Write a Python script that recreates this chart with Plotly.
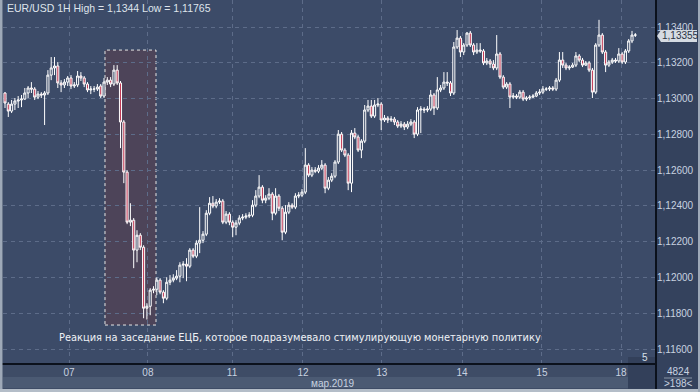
import plotly.graph_objects as go

# EUR/USD 1H candles (hourly), 6-18 March 2019
open_ = [1.13031, 1.12969, 1.12930, 1.12969, 1.12986, 1.12992, 1.12997, 1.13031, 1.13059, 1.13053,
         1.13008, 1.13025, 1.13020, 1.13031, 1.13131, 1.13171, 1.13182, 1.13087, 1.13076, 1.13092,
         1.13115, 1.13070, 1.13076, 1.13126, 1.13115, 1.13081, 1.13048, 1.13053, 1.13053, 1.13070,
         1.13014, 1.13092, 1.13103, 1.13081, 1.13159, 1.13087, 1.12869, 1.12589, 1.12309, 1.12320,
         1.12153, 1.12236, 1.12169, 1.11828, 1.11839, 1.11929, 1.11934, 1.11985, 1.11918, 1.11884,
         1.11973, 1.11985, 1.11996, 1.12007, 1.12069, 1.12074, 1.12063, 1.12153, 1.12119, 1.12192,
         1.12208, 1.12242, 1.12359, 1.12415, 1.12399, 1.12421, 1.12427, 1.12309, 1.12354, 1.12309,
         1.12281, 1.12304, 1.12332, 1.12337, 1.12343, 1.12348, 1.12404, 1.12455, 1.12505, 1.12432,
         1.12443, 1.12466, 1.12359, 1.12455, 1.12387, 1.12253, 1.12365, 1.12404, 1.12393, 1.12455,
         1.12460, 1.12477, 1.12628, 1.12572, 1.12600, 1.12594, 1.12611, 1.12628, 1.12499, 1.12544,
         1.12566, 1.12645, 1.12801, 1.12712, 1.12684, 1.12527, 1.12807, 1.12785, 1.12712, 1.12762,
         1.12936, 1.12958, 1.12902, 1.12964, 1.12969, 1.12880, 1.12891, 1.12880, 1.12885, 1.12869,
         1.12846, 1.12857, 1.12841, 1.12857, 1.12869, 1.12801, 1.12936, 1.12941, 1.12936, 1.12941,
         1.13020, 1.12947, 1.13048, 1.13059, 1.13092, 1.13087, 1.13031, 1.13288, 1.13338, 1.13260,
         1.13299, 1.13366, 1.13299, 1.13260, 1.13271, 1.13266, 1.13199, 1.13210, 1.13193, 1.13171,
         1.13249, 1.13120, 1.13064, 1.13081, 1.13008, 1.13014, 1.13008, 1.13036, 1.12997, 1.13003,
         1.13008, 1.13014, 1.13031, 1.13036, 1.13053, 1.13053, 1.13059, 1.13053, 1.13103, 1.13215,
         1.13187, 1.13171, 1.13176, 1.13187, 1.13238, 1.13215, 1.13187, 1.13199, 1.13159, 1.13036,
         1.13299, 1.13355, 1.13260, 1.13187, 1.13204, 1.13215, 1.13210, 1.13249, 1.13204, 1.13266,
         1.13322, 1.13355]

high = [1.13036, 1.12980, 1.12992, 1.13003, 1.13014, 1.13020, 1.13059, 1.13070, 1.13092, 1.13064,
        1.13042, 1.13036, 1.13042, 1.13159, 1.13232, 1.13232, 1.13204, 1.13103, 1.13109, 1.13126,
        1.13131, 1.13092, 1.13154, 1.13148, 1.13126, 1.13092, 1.13070, 1.13070, 1.13081, 1.13081,
        1.13115, 1.13120, 1.13120, 1.13187, 1.13187, 1.13098, 1.12880, 1.12600, 1.12415, 1.12332,
        1.12264, 1.12248, 1.12180, 1.11856, 1.11940, 1.11951, 1.12001, 1.11996, 1.11929, 1.12001,
        1.12013, 1.12018, 1.12041, 1.12085, 1.12091, 1.12108, 1.12164, 1.12164, 1.12208, 1.12393,
        1.12259, 1.12376, 1.12449, 1.12455, 1.12438, 1.12443, 1.12438, 1.12371, 1.12365, 1.12320,
        1.12320, 1.12348, 1.12354, 1.12359, 1.12365, 1.12432, 1.12488, 1.12572, 1.12516, 1.12460,
        1.12499, 1.12477, 1.12499, 1.12466, 1.12399, 1.12404, 1.12421, 1.12415, 1.12471, 1.12477,
        1.12494, 1.12723, 1.12639, 1.12617, 1.12617, 1.12628, 1.12656, 1.12639, 1.12561, 1.12583,
        1.12656, 1.12824, 1.12813, 1.12723, 1.12695, 1.12824, 1.12835, 1.12796, 1.12773, 1.12964,
        1.12992, 1.12992, 1.12992, 1.13003, 1.12980, 1.12908, 1.12902, 1.12902, 1.12897, 1.12880,
        1.12874, 1.12869, 1.12874, 1.12885, 1.12880, 1.12952, 1.12958, 1.12952, 1.12958, 1.13048,
        1.13031, 1.13120, 1.13076, 1.13148, 1.13148, 1.13098, 1.13316, 1.13383, 1.13350, 1.13310,
        1.13372, 1.13378, 1.13310, 1.13310, 1.13310, 1.13277, 1.13227, 1.13221, 1.13215, 1.13355,
        1.13260, 1.13131, 1.13092, 1.13092, 1.13031, 1.13025, 1.13048, 1.13048, 1.13014, 1.13020,
        1.13025, 1.13042, 1.13053, 1.13070, 1.13064, 1.13070, 1.13070, 1.13115, 1.13260, 1.13260,
        1.13199, 1.13187, 1.13199, 1.13260, 1.13249, 1.13227, 1.13210, 1.13210, 1.13171, 1.13310,
        1.13440, 1.13366, 1.13271, 1.13215, 1.13227, 1.13227, 1.13282, 1.13260, 1.13277, 1.13333,
        1.13378, 1.13366]

low = [1.12947, 1.12897, 1.12919, 1.12936, 1.12947, 1.12952, 1.12992, 1.13003, 1.13031, 1.12992,
       1.12997, 1.13003, 1.12852, 1.13020, 1.13103, 1.13131, 1.13059, 1.13036, 1.13059, 1.13070,
       1.13053, 1.13059, 1.13064, 1.13098, 1.13064, 1.13036, 1.13025, 1.13036, 1.13042, 1.13003,
       1.13003, 1.13076, 1.13064, 1.13070, 1.13076, 1.12723, 1.12527, 1.12298, 1.12287, 1.12052,
       1.12085, 1.12153, 1.11772, 1.11765, 1.11789, 1.11912, 1.11901, 1.11906, 1.11856, 1.11873,
       1.11957, 1.11973, 1.11985, 1.11973, 1.11996, 1.11979, 1.12052, 1.12108, 1.12108, 1.12136,
       1.12192, 1.12231, 1.12348, 1.12387, 1.12387, 1.12410, 1.12298, 1.12298, 1.12292, 1.12225,
       1.12236, 1.12292, 1.12320, 1.12326, 1.12332, 1.12337, 1.12393, 1.12443, 1.12415, 1.12415,
       1.12432, 1.12320, 1.12348, 1.12371, 1.12208, 1.12242, 1.12354, 1.12382, 1.12382, 1.12443,
       1.12449, 1.12466, 1.12561, 1.12561, 1.12583, 1.12583, 1.12600, 1.12471, 1.12488, 1.12533,
       1.12555, 1.12634, 1.12701, 1.12673, 1.12488, 1.12477, 1.12773, 1.12701, 1.12667, 1.12751,
       1.12924, 1.12891, 1.12891, 1.12952, 1.12824, 1.12869, 1.12863, 1.12869, 1.12852, 1.12835,
       1.12835, 1.12824, 1.12829, 1.12846, 1.12779, 1.12790, 1.12807, 1.12919, 1.12924, 1.12930,
       1.12908, 1.12936, 1.13036, 1.13048, 1.13070, 1.13014, 1.13020, 1.13277, 1.13232, 1.13243,
       1.13288, 1.13288, 1.13243, 1.13249, 1.13255, 1.13187, 1.13187, 1.13171, 1.13159, 1.13159,
       1.13109, 1.13053, 1.13053, 1.12947, 1.12997, 1.12997, 1.12997, 1.12986, 1.12986, 1.12992,
       1.13003, 1.13008, 1.13020, 1.13025, 1.13042, 1.13042, 1.13042, 1.13042, 1.13092, 1.13171,
       1.13159, 1.13159, 1.13171, 1.13176, 1.13204, 1.13176, 1.13182, 1.13148, 1.13003, 1.13025,
       1.13288, 1.13249, 1.13148, 1.13176, 1.13193, 1.13199, 1.13199, 1.13193, 1.13193, 1.13255,
       1.13310, 1.13344]

close = [1.12975, 1.12930, 1.12969, 1.12986, 1.12992, 1.12997, 1.13031, 1.13059, 1.13053, 1.13008,
         1.13025, 1.13020, 1.13031, 1.13131, 1.13171, 1.13182, 1.13087, 1.13076, 1.13092, 1.13115,
         1.13070, 1.13076, 1.13126, 1.13115, 1.13081, 1.13048, 1.13053, 1.13053, 1.13064, 1.13014,
         1.13092, 1.13103, 1.13081, 1.13159, 1.13087, 1.12869, 1.12589, 1.12309, 1.12320, 1.12153,
         1.12236, 1.12169, 1.11828, 1.11839, 1.11929, 1.11934, 1.11985, 1.11918, 1.11884, 1.11973,
         1.11985, 1.11996, 1.12007, 1.12069, 1.12074, 1.12063, 1.12153, 1.12119, 1.12192, 1.12208,
         1.12242, 1.12359, 1.12415, 1.12399, 1.12421, 1.12427, 1.12309, 1.12354, 1.12309, 1.12281,
         1.12304, 1.12332, 1.12337, 1.12343, 1.12348, 1.12404, 1.12455, 1.12505, 1.12432, 1.12443,
         1.12466, 1.12359, 1.12455, 1.12387, 1.12253, 1.12365, 1.12404, 1.12393, 1.12455, 1.12460,
         1.12477, 1.12628, 1.12572, 1.12600, 1.12594, 1.12611, 1.12628, 1.12499, 1.12544, 1.12566,
         1.12645, 1.12801, 1.12712, 1.12684, 1.12527, 1.12807, 1.12785, 1.12712, 1.12762, 1.12936,
         1.12958, 1.12902, 1.12964, 1.12969, 1.12880, 1.12891, 1.12880, 1.12885, 1.12869, 1.12846,
         1.12857, 1.12841, 1.12857, 1.12869, 1.12801, 1.12936, 1.12941, 1.12936, 1.12941, 1.13020,
         1.12947, 1.13048, 1.13059, 1.13092, 1.13087, 1.13031, 1.13288, 1.13338, 1.13260, 1.13299,
         1.13366, 1.13299, 1.13260, 1.13271, 1.13266, 1.13199, 1.13210, 1.13193, 1.13171, 1.13249,
         1.13120, 1.13064, 1.13081, 1.13008, 1.13014, 1.13008, 1.13036, 1.12997, 1.13003, 1.13008,
         1.13014, 1.13031, 1.13036, 1.13053, 1.13053, 1.13059, 1.13053, 1.13103, 1.13215, 1.13187,
         1.13171, 1.13176, 1.13187, 1.13238, 1.13215, 1.13187, 1.13199, 1.13159, 1.13036, 1.13299,
         1.13355, 1.13260, 1.13187, 1.13204, 1.13215, 1.13210, 1.13249, 1.13204, 1.13266, 1.13322,
         1.13355, 1.13355]

day_tick_pos = [19.4, 43.3, 68.8, 90.3, 114.2, 138.5, 162.7, 186.7]
day_tick_labels = ["07", "08", "11", "12", "13", "14", "15", "18"]
price_ticks = [1.116, 1.118, 1.120, 1.122, 1.124, 1.126, 1.128, 1.130, 1.132, 1.134]
price_tick_labels = ["1,11600", "1,11800", "1,12000", "1,12200", "1,12400",
                     "1,12600", "1,12800", "1,13000", "1,13200", "1,13400"]
last_price = 1.13355
ecb_window = (30.3, 45.76, 1.11734, 1.13271)

assert len(open_) == len(high) == len(low) == len(close)
idx = list(range(len(close)))

BG = "#3c4b68"
GRID = "#5d6c89"
FONT = "Liberation Sans"

fig = go.Figure()
fig.add_trace(go.Candlestick(
    x=idx, open=open_, high=high, low=low, close=close,
    increasing=dict(line=dict(color="#ffffff", width=1), fillcolor=BG),
    decreasing=dict(line=dict(color="#ffffff", width=1), fillcolor="#c23a55"),
    whiskerwidth=0, showlegend=False, hoverinfo="skip",
))

shapes = []
# ECB reaction window
shapes.append(dict(type="rect", xref="x", yref="y",
                   x0=ecb_window[0], x1=ecb_window[1], y0=ecb_window[2], y1=ecb_window[3],
                   fillcolor="#4d4459", line=dict(color="#e6e6e6", width=1, dash="dot"),
                   layer="below"))

def px_x(p):
    return (p - 3) / 653.0

def px_y(p):
    return (365 - p) / 365.0

# bottom time-scale bands
shapes.append(dict(type="rect", xref="paper", yref="paper", x0=px_x(0), x1=px_x(656),
                   y0=px_y(392), y1=px_y(365), fillcolor="#3e4c66", line=dict(width=0), layer="below"))
shapes.append(dict(type="rect", xref="paper", yref="paper", x0=px_x(3), x1=px_x(628),
                   y0=px_y(388), y1=px_y(377), fillcolor="#4b5a73", line=dict(width=0), layer="below"))
# scroll block
shapes.append(dict(type="rect", xref="paper", yref="paper", x0=px_x(628), x1=px_x(655),
                   y0=px_y(389), y1=px_y(357), fillcolor="#33405a", line=dict(width=0)))
# separators
shapes.append(dict(type="line", xref="paper", yref="paper", x0=px_x(656), x1=px_x(656),
                   y0=px_y(392), y1=px_y(0), line=dict(color="#0b111c", width=2)))
shapes.append(dict(type="line", xref="paper", yref="paper", x0=px_x(0), x1=px_x(656),
                   y0=px_y(364), y1=px_y(364), line=dict(color="#0b111c", width=2)))
# frame edges
shapes.append(dict(type="rect", xref="paper", yref="paper", x0=px_x(0), x1=px_x(2.5),
                   y0=px_y(392), y1=px_y(0), fillcolor="#9ea9b8", line=dict(width=0)))
shapes.append(dict(type="rect", xref="paper", yref="paper", x0=px_x(0), x1=px_x(700),
                   y0=px_y(392), y1=px_y(389), fillcolor="#b4bdc8", line=dict(width=0)))
shapes.append(dict(type="rect", xref="paper", yref="paper", x0=px_x(698), x1=px_x(700),
                   y0=px_y(392), y1=px_y(0), fillcolor="#9ea9b8", line=dict(width=0)))
# right bottom counter separator
shapes.append(dict(type="line", xref="paper", yref="paper", x0=px_x(664), x1=px_x(692),
                   y0=px_y(378), y1=px_y(378), line=dict(color="#8895a8", width=1)))
# last price marker
shapes.append(dict(type="path", xref="paper", yref="paper",
                   path=(f"M {px_x(657)},{px_y(36)} L {px_x(661)},{px_y(30)} L {px_x(697)},{px_y(30)} "
                         f"L {px_x(697)},{px_y(42)} L {px_x(661)},{px_y(42)} Z"),
                   fillcolor="#d5dbe2", line=dict(width=0)))

annotations = [
    dict(text="EUR/USD 1H High = 1,1344 Low = 1,11765", xref="paper", yref="paper",
         x=px_x(5), y=px_y(8), xanchor="left", yanchor="middle", showarrow=False,
         font=dict(family=FONT, size=10.5, color="#dfe5ec")),
    dict(text="Реакция на заседание ЕЦБ, которое подразумевало стимулирующую монетарную политику",
         xref="paper", yref="paper", x=px_x(57), y=px_y(337), xanchor="left", yanchor="middle",
         showarrow=False, font=dict(family="DejaVu Sans", size=9.85, color="#eef1f5")),
    dict(text=f"{last_price:.5f}".replace(".", ","), xref="paper", yref="y", x=px_x(661), y=last_price,
         xanchor="left", yanchor="middle", showarrow=False, borderpad=0,
         font=dict(family=FONT, size=10, color="#2a3344")),
    dict(text="мар.2019", xref="paper", yref="paper", x=px_x(332), y=px_y(383),
         xanchor="center", yanchor="middle", showarrow=False,
         font=dict(family=FONT, size=10, color="#c8d2e0")),
    dict(text="5", xref="paper", yref="paper", x=px_x(645), y=px_y(357),
         xanchor="center", yanchor="middle", showarrow=False,
         font=dict(family=FONT, size=10, color="#d8e0ea")),
    dict(text="4824", xref="paper", yref="paper", x=px_x(678), y=px_y(371),
         xanchor="center", yanchor="middle", showarrow=False,
         font=dict(family=FONT, size=10, color="#c8d2e0")),
    dict(text="&gt;198&lt;", xref="paper", yref="paper", x=px_x(678), y=px_y(384),
         xanchor="center", yanchor="middle", showarrow=False,
         font=dict(family=FONT, size=10, color="#c8d2e0")),
]

fig.update_layout(
    width=700, height=392,
    margin=dict(l=3, r=44, t=0, b=27),
    paper_bgcolor="#34425d",
    plot_bgcolor=BG,
    shapes=shapes,
    annotations=annotations,
    boxgap=0.1,
    xaxis=dict(
        range=[-0.606, 197.27], rangeslider=dict(visible=False),
        tickmode="array", tickvals=day_tick_pos, ticktext=day_tick_labels,
        showgrid=True, gridcolor=GRID, griddash="4px,4px", gridwidth=1,
        zeroline=False, showline=False, ticks="", ticklabelstandoff=0,
        tickfont=dict(family=FONT, size=10, color="#c8d2e0"),
    ),
    yaxis=dict(
        range=[1.115106, 1.135509], side="right",
        tickmode="array", tickvals=price_ticks, ticktext=price_tick_labels,
        showgrid=True, gridcolor=GRID, griddash="4px,4px", gridwidth=1,
        zeroline=False, showline=False, ticks="",
        tickfont=dict(family=FONT, size=10, color="#c8d2e0"),
    ),
)

fig.write_html("out.html", config={"displayModeBar": False},
               post_script="document.body.style.margin='0';document.body.style.padding='0';")
